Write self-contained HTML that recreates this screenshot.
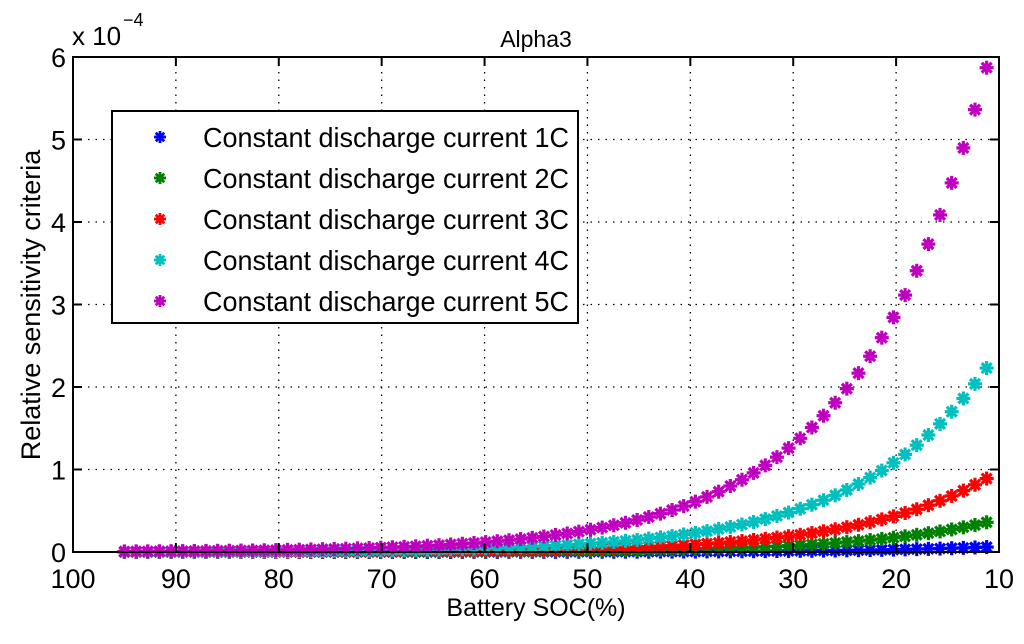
<!DOCTYPE html>
<html><head><meta charset="utf-8"><style>
body{margin:0;background:#fff;}
svg text{font-family:"Liberation Sans",sans-serif;fill:#000;}
</style></head><body>
<svg id="chart" width="1024" height="639" xmlns="http://www.w3.org/2000/svg">
<rect width="1024" height="639" fill="#fff"/>
<g id="grid"></g>
<g id="marks"></g>
<g id="axes"></g>
<text x="536" y="47" font-size="23" text-anchor="middle">Alpha3</text>
<text x="536" y="616" font-size="25" text-anchor="middle">Battery SOC(%)</text>
<text transform="translate(40,305) rotate(-90)" font-size="27" text-anchor="middle">Relative sensitivity criteria</text>
<text x="72" y="45" font-size="26">x 10</text>
<text x="123" y="26" font-size="18">−4</text>
<g id="legend"></g>
</svg>
<script>
const seriesNames=["Constant discharge current 1C","Constant discharge current 2C","Constant discharge current 3C","Constant discharge current 4C","Constant discharge current 5C"];
const seriesColors=["#0000ff","#008000","#ff0000","#00bfbf","#bf00bf"];
const xTicks=[100,90,80,70,60,50,40,30,20,10];
const yTicks=[0,1,2,3,4,5,6];
const socStart=95, socEnd=11.2;
const s1C=[0,0,0,0,0,0,0,0,0,0,0,0,0,0,0,0,0,0,0,0,0,0,0,0,0,0,0,0,0,0.001,0.001,0.001,0.001,0.002,0.002,0.002,0.002,0.002,0.003,0.003,0.003,0.003,0.003,0.004,0.004,0.004,0.005,0.005,0.006,0.006,0.007,0.007,0.008,0.009,0.010,0.011,0.012,0.013,0.014,0.015,0.017,0.018,0.020,0.022,0.024,0.026,0.029,0.032,0.035,0.038,0.042,0.046,0.050,0.055,0.06];
const s2C=[0,0,0,0.001,0.001,0.001,0.001,0.001,0.001,0.001,0.001,0.001,0.001,0.001,0.002,0.002,0.002,0.002,0.002,0.002,0.003,0.003,0.003,0.004,0.004,0.004,0.005,0.005,0.006,0.006,0.007,0.007,0.008,0.009,0.010,0.010,0.011,0.013,0.014,0.015,0.016,0.018,0.020,0.022,0.024,0.026,0.028,0.031,0.034,0.037,0.041,0.045,0.049,0.053,0.058,0.064,0.070,0.077,0.084,0.092,0.101,0.110,0.121,0.132,0.145,0.158,0.173,0.190,0.208,0.228,0.249,0.273,0.299,0.327,0.36];
const s3C=[0.001,0.001,0.001,0.001,0.002,0.002,0.002,0.002,0.002,0.002,0.003,0.003,0.003,0.003,0.004,0.004,0.005,0.005,0.006,0.006,0.007,0.007,0.008,0.009,0.010,0.010,0.012,0.013,0.014,0.015,0.017,0.018,0.020,0.022,0.024,0.026,0.029,0.031,0.034,0.038,0.041,0.045,0.049,0.054,0.059,0.065,0.071,0.077,0.085,0.093,0.102,0.111,0.122,0.133,0.146,0.160,0.175,0.191,0.209,0.229,0.251,0.275,0.301,0.330,0.361,0.395,0.432,0.473,0.518,0.567,0.621,0.680,0.744,0.815,0.89];
const s4C=[0.003,0.003,0.003,0.003,0.004,0.004,0.005,0.005,0.006,0.006,0.007,0.007,0.008,0.009,0.010,0.011,0.012,0.013,0.014,0.015,0.017,0.018,0.020,0.022,0.024,0.026,0.029,0.032,0.035,0.038,0.041,0.046,0.050,0.054,0.060,0.065,0.071,0.078,0.086,0.094,0.103,0.112,0.123,0.135,0.147,0.162,0.177,0.193,0.212,0.232,0.254,0.278,0.304,0.333,0.364,0.399,0.437,0.478,0.524,0.573,0.628,0.687,0.752,0.824,0.902,0.987,1.081,1.183,1.295,1.418,1.553,1.700,1.861,2.038,2.23];
const s5C=[0.007,0.008,0.008,0.009,0.010,0.011,0.012,0.013,0.015,0.016,0.018,0.019,0.021,0.023,0.026,0.028,0.031,0.034,0.037,0.040,0.044,0.048,0.053,0.058,0.063,0.069,0.076,0.083,0.091,0.100,0.109,0.120,0.131,0.143,0.157,0.172,0.188,0.206,0.225,0.247,0.270,0.296,0.324,0.354,0.388,0.425,0.465,0.509,0.557,0.610,0.668,0.731,0.800,0.876,0.959,1.050,1.150,1.259,1.378,1.509,1.652,1.809,1.980,2.168,2.373,2.598,2.844,3.114,3.409,3.732,4.086,4.474,4.898,5.362,5.87];
const allSeries=[s1C,s2C,s3C,s4C,s5C];

const L=73,R=999,T=57,B=552;
const NS="http://www.w3.org/2000/svg";
function xs(v){return L+(100-v)/90*(R-L);}
function ys(v){return B-v/6*(B-T);}
function el(tag,attrs,parent){const e=document.createElementNS(NS,tag);for(const k in attrs)e.setAttribute(k,attrs[k]);parent.appendChild(e);return e;}
const grid=document.getElementById('grid'),axes=document.getElementById('axes'),marks=document.getElementById('marks'),legend=document.getElementById('legend');
xTicks.forEach(t=>{const x=xs(t);
 if(t!==100&&t!==10){const g=el('line',{x1:x,x2:x,y1:T,y2:B,stroke:'#000','stroke-width':1.3,'stroke-dasharray':'1.5 6'},grid);
 
 }
 el('line',{x1:x,x2:x,y1:B,y2:B-9,stroke:'#000','stroke-width':2},axes);
 el('line',{x1:x,x2:x,y1:T,y2:T+9,stroke:'#000','stroke-width':2},axes);
 const tx=el('text',{x:x,y:B+36,'font-size':27,'text-anchor':'middle'},axes);tx.textContent=t;
 
 
});
yTicks.forEach(t=>{const y=ys(t);
 if(t!==0&&t!==6){const g=el('line',{x1:L,x2:R,y1:y,y2:y,stroke:'#000','stroke-width':1.3,'stroke-dasharray':'1.5 6'},grid);
 
 }
 el('line',{x1:L,x2:L+9,y1:y,y2:y,stroke:'#000','stroke-width':2},axes);
 el('line',{x1:R,x2:R-9,y1:y,y2:y,stroke:'#000','stroke-width':2},axes);
 const tx=el('text',{x:L-7,y:y+10,'font-size':27,'text-anchor':'end'},axes);tx.textContent=t;
 
 
});
el('rect',{x:L,y:T,width:R-L,height:B-T,fill:'none',stroke:'#000','stroke-width':2},axes);
function star(cx,cy,r,color,sw,parent){const g=el('g',{stroke:color,'stroke-width':sw},parent);
 for(let a=0;a<4;a++){const an=a*Math.PI/4,dx=r*Math.cos(an),dy=r*Math.sin(an);
  el('line',{x1:cx-dx,y1:cy-dy,x2:cx+dx,y2:cy+dy},g);}
 return g;}
allSeries.forEach((s,si)=>{const n=s.length;
 s.forEach((v,i)=>{const soc=socStart+(socEnd-socStart)*i/(n-1);
  const m=star(xs(soc),ys(v),7,seriesColors[si],3.2,marks);
  
  
 });
});
const lb=el('rect',{x:112,y:111,width:466,height:212,fill:'#fff',stroke:'#000','stroke-width':2},legend);


seriesNames.forEach((nm,i)=>{const y=137+i*41;
 const m=star(160,y,6,seriesColors[i],2.8,legend);
 
 
 const t=el('text',{x:203,y:y+10,'font-size':28,textLength:366,lengthAdjust:'spacingAndGlyphs'},legend);t.textContent=nm;
 
 
});
</script>
</body></html>
